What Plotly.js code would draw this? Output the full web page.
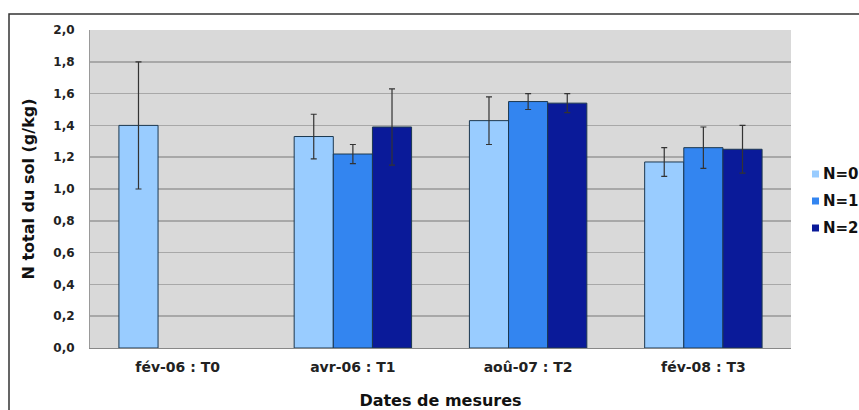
<!DOCTYPE html>
<html><head><meta charset="utf-8">
<script src="https://cdn.plot.ly/plotly-3.0.1.min.js"></script>
<style>html,body{margin:0;padding:0;background:#fff;overflow:hidden;}#chart{width:859px;height:410px;}</style>
</head><body><div id="chart"></div>
<script>
const categories = ["fév-06 : T0", "avr-06 : T1", "aoû-07 : T2", "fév-08 : T3"];
const seriesNames = ["N=0", "N=1", "N=2"];
const n0 = [1.40, 1.33, 1.43, 1.17];
const n0err = [0.40, 0.14, 0.15, 0.09];
const n1 = [null, 1.22, 1.55, 1.26];
const n1err = [null, 0.06, 0.05, 0.13];
const n2 = [null, 1.39, 1.54, 1.25];
const n2err = [null, 0.24, 0.06, 0.15];
const yTicks = [0, 0.2, 0.4, 0.6, 0.8, 1.0, 1.2, 1.4, 1.6, 1.8, 2.0];

const colors = ["#99ccff", "#3385f0", "#0a1a99"];
const vals = [n0, n1, n2];
const errs = [n0err, n1err, n2err];
const traces = vals.map((v, i) => ({
  type: 'bar', name: seriesNames[i], x: categories, y: v,
  marker: {color: colors[i], line: {color: '#1c3850', width: 1}},
  error_y: {type: 'data', array: errs[i], visible: true, color: '#333', thickness: 1.2, width: 3}
}));

const font = "DejaVu Sans, Verdana, sans-serif";
const W = 859, H = 410, M = {l: 90, r: 68, t: 30, b: 62};
const pw = W - M.l - M.r, ph = H - M.t - M.b;
const px = x => (x - M.l) / pw;
const py = y => (H - M.b - y) / ph;

// hand-placed legend (swatch + label) to the right of the plot
const legendY = [174, 201, 228];
const shapes = [{type: 'rect', xref: 'paper', yref: 'paper', x0: px(9), x1: px(900), y0: py(460), y1: py(14),
  line: {color: '#333', width: 1.5}, fillcolor: 'rgba(0,0,0,0)', layer: 'below'}];
const annotations = [];
seriesNames.forEach((nm, i) => {
  shapes.push({type: 'rect', xref: 'paper', yref: 'paper', x0: px(812), x1: px(819),
    y0: py(legendY[i] + 3.5), y1: py(legendY[i] - 3.5), fillcolor: colors[i], line: {width: 0}});
  annotations.push({xref: 'paper', yref: 'paper', x: px(821), y: py(legendY[i]), xanchor: 'left', yanchor: 'middle',
    text: nm, showarrow: false, font: {family: font, size: 15, color: '#111', weight: 'bold'}});
});

const layout = {
  width: W, height: H,
  margin: {l: M.l, r: M.r, t: M.t, b: M.b, autoexpand: false},
  paper_bgcolor: '#ffffff', plot_bgcolor: '#d9d9d9',
  separators: ', ',
  barmode: 'group', bargap: 0.33, bargroupgap: 0,
  showlegend: false,
  xaxis: {
    tickfont: {family: font, size: 14, color: '#222', weight: 'bold'},
    showline: true, linecolor: '#888', linewidth: 1, ticks: '', showgrid: false, ticklabelstandoff: 6,
    title: {text: 'Dates de mesures', font: {family: font, size: 16, color: '#111', weight: 'bold'}, standoff: 21}
  },
  yaxis: {
    range: [0, 2.0], tickvals: yTicks, tickformat: '.1f',
    tickfont: {family: font, size: 12, color: '#222', weight: 'bold'},
    showgrid: true, gridcolor: '#a8a8a8', gridwidth: 1.5, zeroline: false,
    showline: true, linecolor: '#999', linewidth: 1, ticks: '', ticklabelstandoff: 12,
    title: {text: 'N total du sol (g/kg)', font: {family: font, size: 16, color: '#111', weight: 'bold'}, standoff: 14}
  },
  shapes: shapes,
  annotations: annotations
};
Plotly.newPlot('chart', traces, layout, {displayModeBar: false, staticPlot: true});
</script></body></html>
